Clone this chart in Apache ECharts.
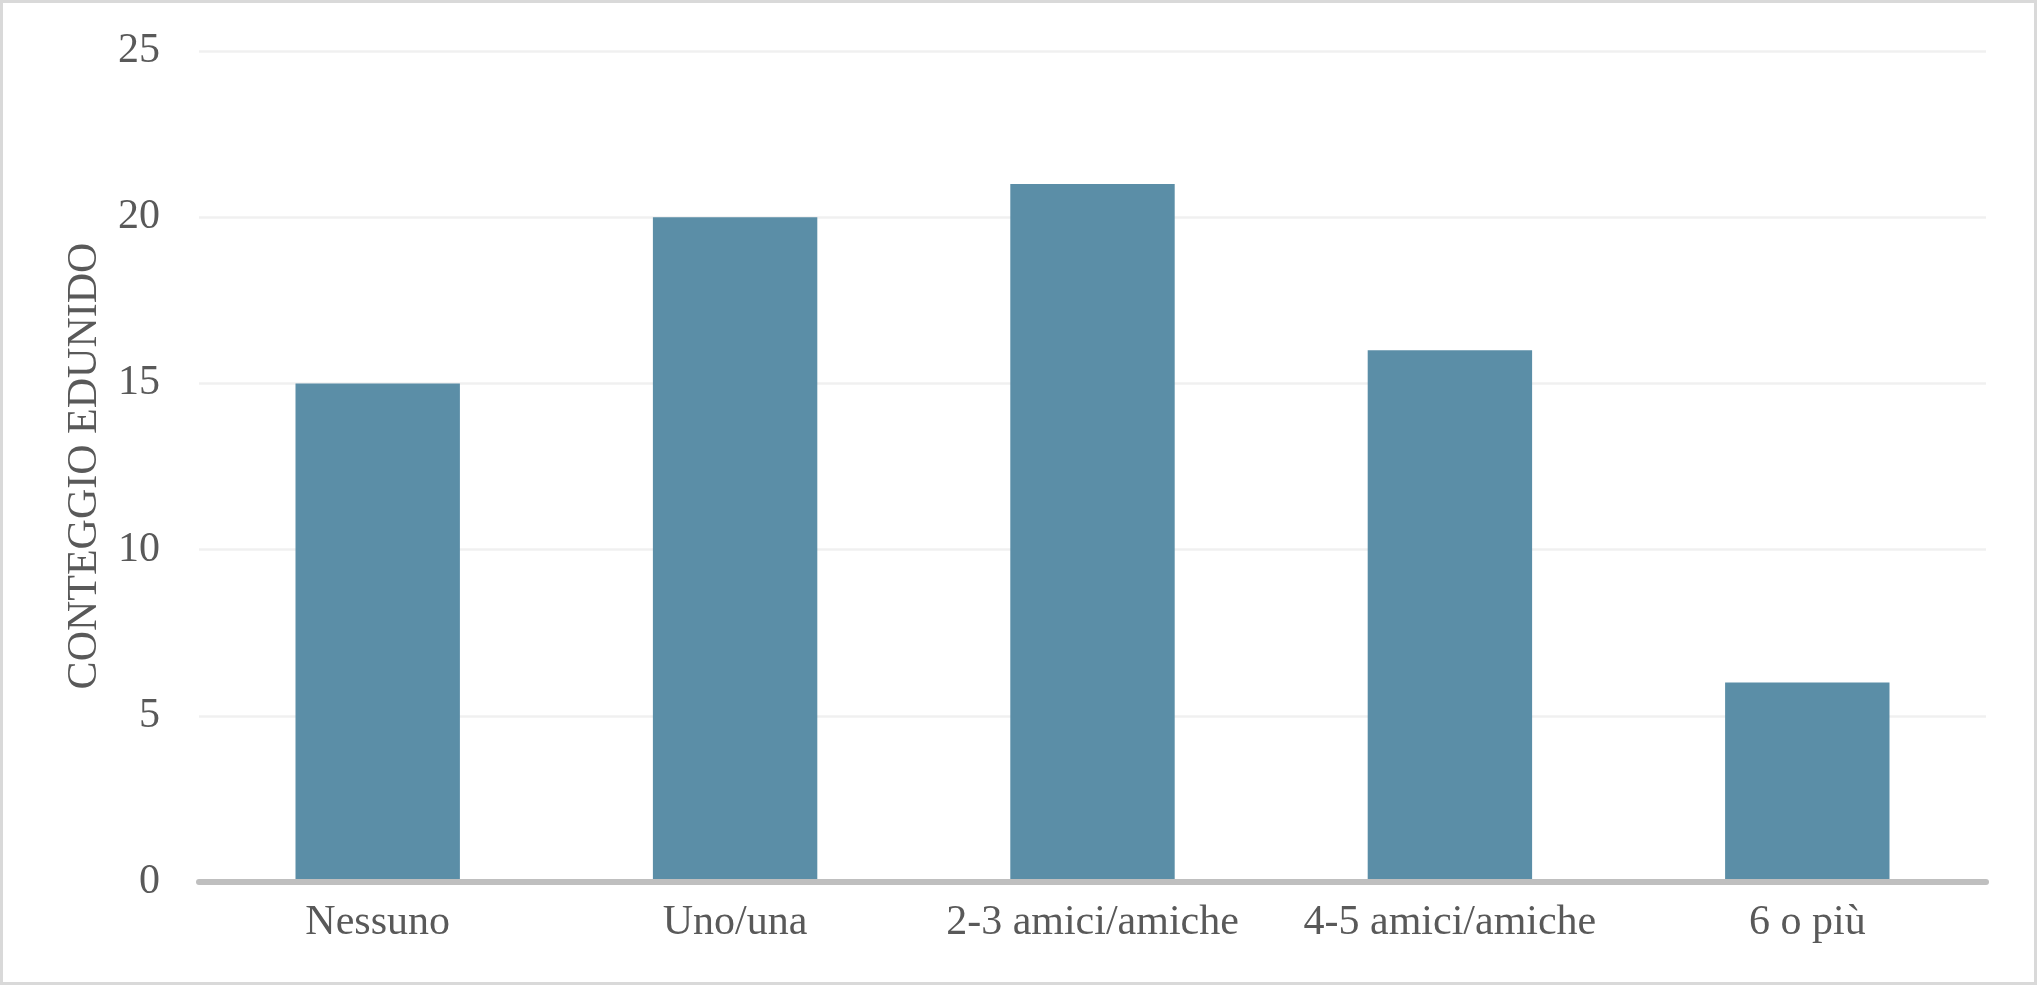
<!DOCTYPE html>
<html>
<head>
<meta charset="utf-8">
<script src="https://cdn.jsdelivr.net/npm/echarts@6/dist/echarts.min.js"></script>
<style>
html,body{margin:0;padding:0;background:#fff;}
#chart{width:2037px;height:985px;}
</style>
</head>
<body>
<div id="chart"></div>
<script>
const categories = ['Nessuno', 'Uno/una', '2-3 amici/amiche', '4-5 amici/amiche', '6 o più'];
const counts = [15, 20, 21, 16, 6];
const yTitle = 'CONTEGGIO EDUNIDO';

const FONT = "'Liberation Serif', 'Times New Roman', serif";
const TEXT = '#595959';

const chart = echarts.init(document.getElementById('chart'), null, {renderer: 'canvas'});
chart.setOption({
  backgroundColor: '#ffffff',
  animation: false,
  graphic: [{
    type: 'rect',
    shape: {x: 1.5, y: 1.5, width: 2034, height: 982},
    style: {fill: 'none', stroke: '#d9d9d9', lineWidth: 3},
    silent: true,
    z: 100
  }, {
    type: 'text',
    x: 85,
    y: 466,
    rotation: Math.PI / 2,
    style: {
      text: yTitle,
      fill: TEXT,
      fontFamily: FONT,
      fontSize: 42,
      align: 'center',
      verticalAlign: 'middle'
    },
    silent: true
  }],
  grid: {left: 199, right: 51, top: 51, bottom: 103, containLabel: false},
  xAxis: {
    type: 'category',
    data: categories,
    axisTick: {show: false},
    axisLine: {show: true, lineStyle: {color: '#bfbfbf', width: 6}},
    axisLabel: {
      color: TEXT, fontFamily: FONT, fontSize: 42,
      margin: 41, verticalAlign: 'middle', interval: 0
    },
    z: 5
  },
  yAxis: {
    type: 'value',
    min: 0, max: 25, interval: 5,
    axisLine: {show: false},
    axisTick: {show: false},
    axisLabel: {color: TEXT, fontFamily: FONT, fontSize: 42, margin: 39},
    splitLine: {show: true, lineStyle: {color: '#f0f0f0', width: 2.5}}
  },
  series: [{
    type: 'bar',
    data: counts,
    barWidth: '46%',
    itemStyle: {color: '#5b8ea7'},
    z: 2
  }]
});
</script>
</body>
</html>
